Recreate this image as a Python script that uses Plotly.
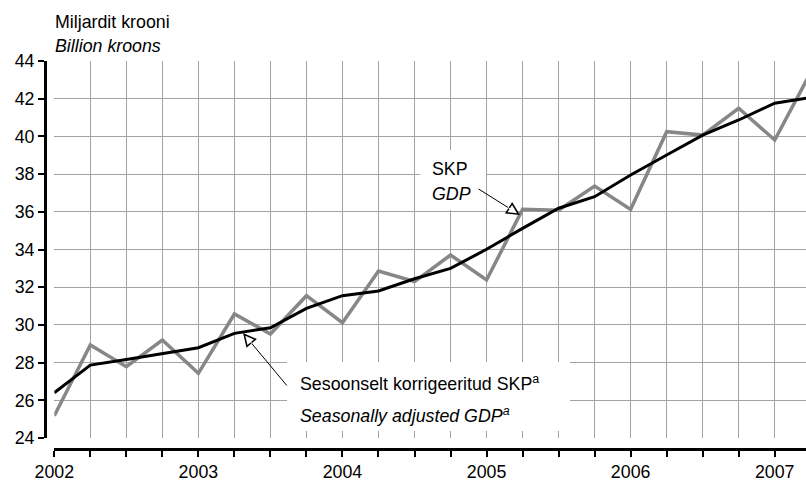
import plotly.graph_objects as go

# quarterly GDP, billion kroons
periods = [
    "2002 Q1", "2002 Q2", "2002 Q3", "2002 Q4",
    "2003 Q1", "2003 Q2", "2003 Q3", "2003 Q4",
    "2004 Q1", "2004 Q2", "2004 Q3", "2004 Q4",
    "2005 Q1", "2005 Q2", "2005 Q3", "2005 Q4",
    "2006 Q1", "2006 Q2", "2006 Q3", "2006 Q4",
    "2007 Q1", "2007 Q2",
]
gdp = [25.18, 28.93, 27.78, 29.20, 27.43, 30.58, 29.52, 31.55, 30.12, 32.86, 32.30,
       33.71, 32.38, 36.13, 36.08, 37.37, 36.13, 40.25, 40.07, 41.49, 39.81, 43.40]
gdp_sa = [26.40, 27.87, 28.17, 28.49, 28.79, 29.55, 29.85, 30.88, 31.55, 31.80, 32.45,
          33.00, 34.01, 35.12, 36.19, 36.80, 37.95, 39.01, 40.07, 40.87, 41.76, 42.06]
year_ticks = [2002, 2003, 2004, 2005, 2006, 2007]
y_ticks = [24, 26, 28, 30, 32, 34, 36, 38, 40, 42, 44]


def period_to_x(p):
    year, q = p.split(" Q")
    return int(year) + (int(q) - 1) / 4


x = [period_to_x(p) for p in periods]

FONT = "Arial, 'Liberation Sans', sans-serif"
FS = 17.8
GRID = "#a3a3a3"

# pixel helpers for text placement (plot paper: x 45..806, y 449..61)
def px(xp):
    return (xp - 45) / 761


def py(yp):
    return (449 - yp) / 388


fig = go.Figure()
fig.add_trace(go.Scatter(x=x, y=gdp, mode="lines",
                         line=dict(color="#878787", width=3.5), name="SKP / GDP"))
fig.add_trace(go.Scatter(x=x, y=gdp_sa, mode="lines",
                         line=dict(color="black", width=3), name="Sesoonselt korrigeeritud SKP"))

fig.update_layout(
    width=806, height=483,
    margin=dict(l=45, r=0, t=61, b=34, autoexpand=False),
    paper_bgcolor="white", plot_bgcolor="white",
    showlegend=False,
    font=dict(family=FONT, size=FS, color="black"),
    xaxis=dict(
        domain=[9.3 / 761, 1], anchor="free", position=0, automargin=False,
        range=[2002, 2007.217],
        tickmode="array", tickvals=year_ticks, ticktext=[str(v) for v in year_ticks],
        ticks="outside", ticklen=6, tickwidth=1.5, tickcolor="black",
        showline=True, linewidth=3, linecolor="black",
        showgrid=True, gridcolor=GRID, gridwidth=1.2,
        zeroline=False,
        minor=dict(dtick=0.25, tick0=2002, ticks="outside", ticklen=6, tickwidth=1.5,
                   tickcolor="black", showgrid=True, gridcolor=GRID, gridwidth=1.2),
        tickfont=dict(size=FS),
    ),
    yaxis=dict(
        domain=[11 / 388, 1], anchor="free", position=0, automargin=False,
        range=[24, 44],
        tickmode="array", tickvals=y_ticks,
        ticks="outside", ticklen=6, tickwidth=1.5, tickcolor="black",
        showline=True, linewidth=3, linecolor="black",
        showgrid=True, gridcolor=GRID, gridwidth=1.2,
        zeroline=False,
        tickfont=dict(size=FS),
    ),
)

# white boxes behind the labels (hide the grid there)
fig.add_shape(type="rect", xref="x", yref="y", x0=2003.615, x1=2005.579, y0=24.37, y1=28.03,
              fillcolor="white", line_width=0, layer="above")
fig.add_shape(type="rect", xref="x", yref="y", x0=2004.538, x1=2004.996, y0=36.1, y1=39.28,
              fillcolor="white", line_width=0, layer="above")

texts = [
    ("Miljardit krooni", 53, 22),
    ("<i>Billion kroons</i>", 53, 46),
    ("SKP", 430, 169),
    ("<i>GDP</i>", 430, 193.5),
    ("Sesoonselt korrigeeritud SKP<sup>a</sup>", 298, 383),
    ("<i>Seasonally adjusted GDP<sup>a</sup></i>", 298, 415),
]
for t, xp, yp in texts:
    fig.add_annotation(text=t, xref="paper", yref="paper", x=px(xp), y=py(yp),
                       xanchor="left", yanchor="middle", showarrow=False,
                       font=dict(size=FS, family=FONT, color="black"))


def open_arrow(tx, ty, ax, ay):
    # black arrow, then a smaller white head inside it -> hollow head
    fig.add_annotation(text="", x=tx, y=ty, xref="x", yref="y", ax=ax, ay=ay,
                       showarrow=True, arrowhead=2, arrowsize=2.7, arrowwidth=1,
                       arrowcolor="black")
    L = (ax ** 2 + ay ** 2) ** 0.5
    fig.add_annotation(text="", x=tx, y=ty, xref="x", yref="y",
                       ax=ax / L * 16, ay=ay / L * 16,
                       showarrow=True, arrowhead=2, arrowsize=1.7, arrowwidth=1,
                       standoff=3.5, arrowcolor="white")


open_arrow(2005.232, 35.83, -43, -27)
open_arrow(2003.31, 29.57, 45, 54)

fig.write_html("out.html", config={"displayModeBar": False},
               post_script="document.body.style.margin='0';")
